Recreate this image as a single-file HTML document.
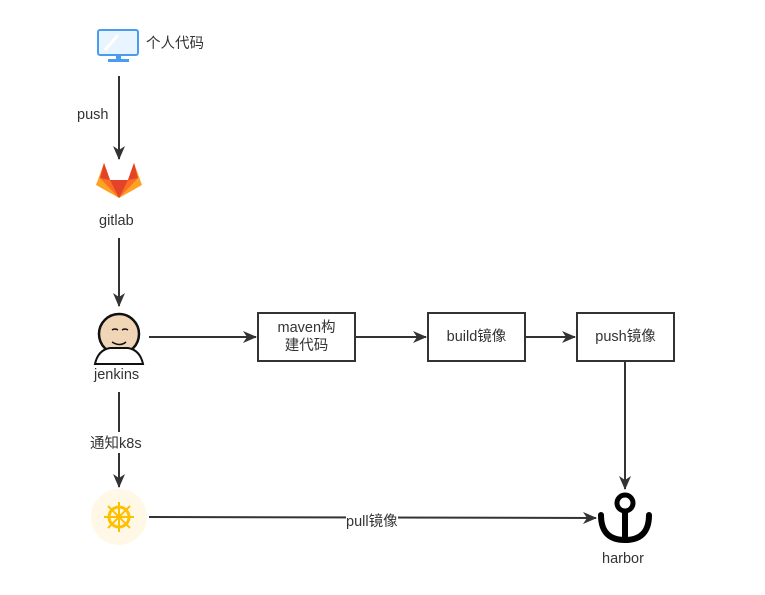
<!DOCTYPE html>
<html><head><meta charset="utf-8"><style>
body{margin:0;background:#fff;width:765px;height:595px;overflow:hidden;position:relative;font-family:"Liberation Sans","Noto Sans CJK SC",sans-serif;color:#333;font-size:14.5px}
.t{position:absolute;white-space:nowrap}
.b{position:absolute;border:2px solid #333;box-sizing:border-box;display:flex;align-items:center;justify-content:center;text-align:center;line-height:18px;background:#fff}
</style></head><body>
<svg width="765" height="595" style="position:absolute;left:0;top:0">
<defs><marker id="a" markerWidth="14" markerHeight="12" refX="13" refY="6" orient="auto" markerUnits="userSpaceOnUse"><path d="M0,0 L14,6 L0,12 L4,6z" fill="#333"/></marker></defs>
<g stroke="#333" stroke-width="2" fill="none">
<line x1="119" y1="76" x2="119" y2="159" marker-end="url(#a)"/>
<line x1="119" y1="238" x2="119" y2="306" marker-end="url(#a)"/>
<line x1="119" y1="392" x2="119" y2="487" marker-end="url(#a)"/>
<line x1="149" y1="337" x2="256" y2="337" marker-end="url(#a)"/>
<line x1="355" y1="337" x2="426" y2="337" marker-end="url(#a)"/>
<line x1="525" y1="337" x2="575" y2="337" marker-end="url(#a)"/>
<line x1="625" y1="361" x2="625" y2="489" marker-end="url(#a)"/>
<line x1="149" y1="517" x2="596" y2="518" marker-end="url(#a)"/>
</g>
<rect x="98" y="30" width="40" height="25" rx="2" fill="#e8f4ff" stroke="#4a9cf0" stroke-width="2"/>
<line x1="105" y1="50" x2="118" y2="35" stroke="#fff" stroke-width="3"/>
<rect x="116" y="56" width="5" height="4" fill="#4a9cf0"/><rect x="108" y="59" width="21" height="3" fill="#4a9cf0"/>
<path d="M96,185 L104,163 L110,180 L128,180 L134,163 L142,185 L119,198z" fill="#fca326"/>
<path d="M104,163 L110,180 L128,180 L134,163 L138,178 L119,198 L100,178z" fill="#fc6d26"/>
<path d="M110,180 L128,180 L119,198z" fill="#e24329"/>
<path d="M104,163 L110,180 L100,178z M134,163 L128,180 L138,178z" fill="#e24329"/>
<circle cx="119" cy="334" r="20" fill="#f0d6b7" stroke="#111" stroke-width="2.5"/>
<path d="M95,364 Q98,350 110,348 L128,348 Q140,350 143,364z" fill="#fff" stroke="#111" stroke-width="2"/>
<path d="M112,330 q3,-2 6,0 M122,330 q3,-2 6,0 M112,342 q8,5 14,0" stroke="#111" stroke-width="1.5" fill="none"/>
<circle cx="119" cy="517" r="28" fill="#fff8e6"/>
<circle cx="119" cy="517" r="10" fill="none" stroke="#ffc000" stroke-width="3"/>
<circle cx="119" cy="517" r="3" fill="#ffc000"/>
<g stroke="#ffc000" stroke-width="2"><line x1="119" y1="502" x2="119" y2="532"/><line x1="104" y1="517" x2="134" y2="517"/><line x1="108" y1="506" x2="130" y2="528"/><line x1="130" y1="506" x2="108" y2="528"/></g>
<circle cx="625" cy="503" r="8" fill="none" stroke="#000" stroke-width="5"/>
<line x1="625" y1="511" x2="625" y2="540" stroke="#000" stroke-width="6"/>
<path d="M601,515 Q601,540 625,540 Q649,540 649,515" fill="none" stroke="#000" stroke-width="6" stroke-linecap="round"/>
</svg>
<div class="t" style="left:146px;top:32px">个人代码</div>
<div class="t" style="left:77px;top:107px;background:#fff">push</div>
<div class="t" style="left:99px;top:213px">gitlab</div>
<div class="t" style="left:94px;top:367px">jenkins</div>
<div class="t" style="left:90px;top:432px;background:#fff">通知k8s</div>
<div class="t" style="left:346px;top:510px;background:#fff">pull镜像</div>
<div class="t" style="left:602px;top:551px">harbor</div>
<div class="b" style="left:257px;top:312px;width:99px;height:50px">maven构<br>建代码</div>
<div class="b" style="left:427px;top:312px;width:99px;height:50px">build镜像</div>
<div class="b" style="left:576px;top:312px;width:99px;height:50px">push镜像</div>
</body></html>
